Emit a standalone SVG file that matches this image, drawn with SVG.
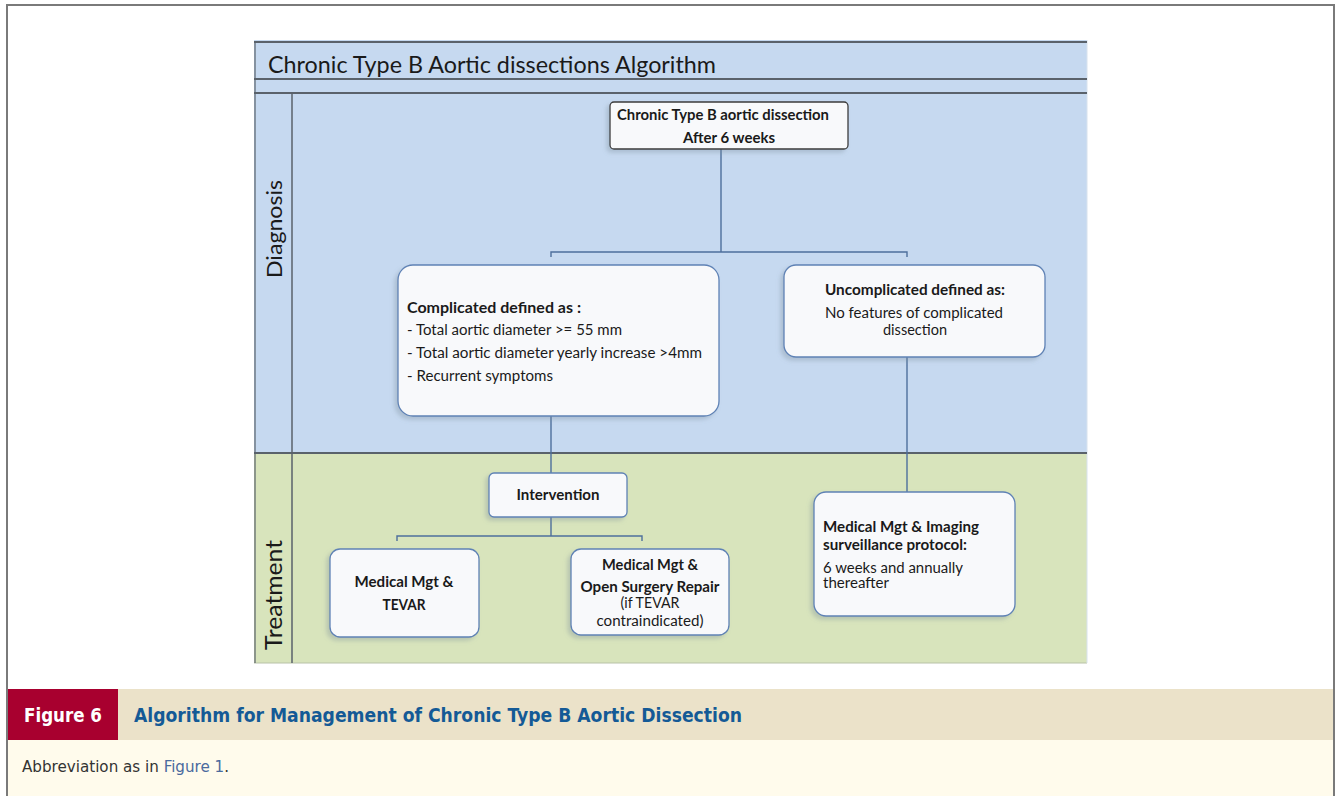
<svg xmlns="http://www.w3.org/2000/svg" width="1341" height="796" viewBox="0 0 1341 796">
<defs>
<filter id="sh" x="-10%" y="-10%" width="120%" height="130%">
<feDropShadow dx="-3" dy="3" stdDeviation="2" flood-color="#7a8a99" flood-opacity="0.35"/>
</filter>
<style>
.d{font-family:Lato,"Open Sans","Liberation Sans",sans-serif;fill:#1a1a1a;font-size:14.5px}
.b{font-weight:bold}
.box{fill:#f8f9fb;stroke:#5f82b5;stroke-width:1.3;filter:url(#sh)}
.conn{stroke:#4e6f9c;stroke-width:1.4;fill:none}
.lane{stroke:#5a626b;stroke-width:2}
.cap{font-family:"Liberation Sans Narrow","DejaVu Sans Condensed","Liberation Sans",sans-serif}
</style>
</defs>
<rect x="0" y="0" width="1341" height="796" fill="#ffffff"/>
<!-- outer border -->
<path d="M7,796 V5 H1334 V796" fill="none" stroke="#7a7a7a" stroke-width="2"/>

<!-- diagram panel -->
<g id="panel">
<rect x="254" y="40" width="833" height="413" fill="#c6d9f0"/>
<rect x="254" y="453" width="833" height="210" fill="#d8e4bc"/>
<line x1="254" y1="663" x2="1087" y2="663" stroke="#b8c2a8" stroke-width="1"/>
<line x1="1087" y1="40" x2="1087" y2="663" stroke="#d8e2ee" stroke-width="1"/>
<line x1="254" y1="42" x2="1087" y2="42" class="lane"/>
<line x1="254" y1="79" x2="1087" y2="79" class="lane"/>
<line x1="254" y1="93" x2="1087" y2="93" class="lane"/>
<line x1="254" y1="453" x2="1087" y2="453" class="lane"/>
<line x1="255" y1="42" x2="255" y2="663" stroke="#5a626b" stroke-width="1.2"/>
<line x1="292" y1="93" x2="292" y2="663" stroke="#5a626b" stroke-width="1.5"/>
<text x="268" y="73" class="d" style="font-size:23px" textLength="448" lengthAdjust="spacingAndGlyphs">Chronic Type B Aortic dissections Algorithm</text>
<text transform="translate(282,229) rotate(-90)" text-anchor="middle" class="d" style="font-size:22px" textLength="98" lengthAdjust="spacingAndGlyphs">Diagnosis</text>
<text transform="translate(282,595) rotate(-90)" text-anchor="middle" class="d" style="font-size:23px" textLength="110" lengthAdjust="spacingAndGlyphs">Treatment</text>
</g>

<!-- connectors -->
<g id="connectors">
<path class="conn" d="M721,149 V252 M551,257 V252 H907 V257"/>
<path class="conn" d="M551,416 V473"/>
<path class="conn" d="M551,517 V536 M397,541 V536 H642 V541"/>
<path class="conn" d="M907,357 V492"/>
</g>

<g id="n-start">
<rect x="610" y="102" width="238" height="47" rx="4" fill="#f8f9fb" stroke="#3d3d3d" stroke-width="1.3" filter="url(#sh)"/>
<text x="723" y="120" text-anchor="middle" class="d b" textLength="212" lengthAdjust="spacingAndGlyphs">Chronic Type B aortic dissection</text>
<text x="729" y="143" text-anchor="middle" class="d b" textLength="92" lengthAdjust="spacingAndGlyphs">After 6 weeks</text>
</g>

<g id="n-complicated">
<rect x="398" y="265" width="321" height="151" rx="15" class="box"/>
<text x="407" y="313" class="d b" textLength="174" lengthAdjust="spacingAndGlyphs">Complicated defined as :</text>
<text x="407" y="335" class="d" textLength="215" lengthAdjust="spacingAndGlyphs">- Total aortic diameter &gt;= 55 mm</text>
<text x="407" y="358" class="d" textLength="295" lengthAdjust="spacingAndGlyphs">- Total aortic diameter yearly increase &gt;4mm</text>
<text x="407" y="381" class="d" textLength="146" lengthAdjust="spacingAndGlyphs">- Recurrent symptoms</text>
</g>

<g id="n-uncomplicated">
<rect x="784" y="265" width="261" height="92" rx="12" class="box"/>
<text x="915" y="295" text-anchor="middle" class="d b" textLength="180" lengthAdjust="spacingAndGlyphs">Uncomplicated defined as:</text>
<text x="914" y="318" text-anchor="middle" class="d" textLength="178" lengthAdjust="spacingAndGlyphs">No features of complicated</text>
<text x="915" y="335" text-anchor="middle" class="d" textLength="64" lengthAdjust="spacingAndGlyphs">dissection</text>
</g>

<g id="n-intervention">
<rect x="489" y="473" width="138" height="44" rx="5" class="box"/>
<text x="558" y="500" text-anchor="middle" class="d b" textLength="83" lengthAdjust="spacingAndGlyphs">Intervention</text>
</g>

<g id="n-tevar">
<rect x="330" y="549" width="149" height="88" rx="10" class="box"/>
<text x="404" y="587" text-anchor="middle" class="d b" textLength="99" lengthAdjust="spacingAndGlyphs">Medical Mgt &amp;</text>
<text x="404" y="610" text-anchor="middle" class="d b" textLength="43" lengthAdjust="spacingAndGlyphs">TEVAR</text>
</g>

<g id="n-surgery">
<rect x="571" y="549" width="158" height="86" rx="10" class="box"/>
<text x="650" y="570" text-anchor="middle" class="d b" textLength="96" lengthAdjust="spacingAndGlyphs">Medical Mgt &amp;</text>
<text x="650" y="592" text-anchor="middle" class="d b" textLength="139" lengthAdjust="spacingAndGlyphs">Open Surgery Repair</text>
<text x="650" y="608" text-anchor="middle" class="d" textLength="59" lengthAdjust="spacingAndGlyphs">(if TEVAR</text>
<text x="650" y="626" text-anchor="middle" class="d" textLength="107" lengthAdjust="spacingAndGlyphs">contraindicated)</text>
</g>

<g id="n-surveillance">
<rect x="814" y="492" width="201" height="124" rx="12" class="box"/>
<text x="823" y="532" class="d b" textLength="156" lengthAdjust="spacingAndGlyphs">Medical Mgt &amp; Imaging</text>
<text x="823" y="550" class="d b" textLength="144" lengthAdjust="spacingAndGlyphs">surveillance protocol:</text>
<text x="823" y="573" class="d" textLength="140" lengthAdjust="spacingAndGlyphs">6 weeks and annually</text>
<text x="823" y="588" class="d" textLength="66" lengthAdjust="spacingAndGlyphs">thereafter</text>
</g>

<!-- caption -->
<g id="caption">
<rect x="8" y="689" width="1325" height="51" fill="#ebe2c9"/>
<rect x="8" y="740" width="1325" height="56" fill="#fffbec"/>
<rect x="8" y="689" width="110" height="51" fill="#a8002f"/>
<text x="63" y="722" text-anchor="middle" class="cap" font-size="19" font-weight="bold" fill="#ffffff" textLength="78" lengthAdjust="spacingAndGlyphs">Figure 6</text>
<text x="134" y="722" class="cap" font-size="19" font-weight="bold" fill="#145a96" textLength="608" lengthAdjust="spacingAndGlyphs">Algorithm for Management of Chronic Type B Aortic Dissection</text>
<text x="22" y="772" class="cap" font-size="15.5" fill="#333333" textLength="207" lengthAdjust="spacingAndGlyphs">Abbreviation as in <tspan fill="#4a6a9e">Figure 1</tspan>.</text>
</g>
</svg>
